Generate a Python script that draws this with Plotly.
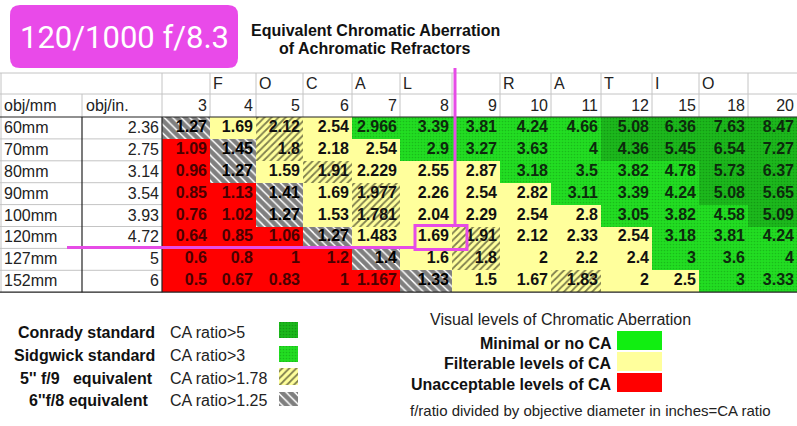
import plotly.graph_objects as go

# ---- data ----
obj_mm = ["60mm", "70mm", "80mm", "90mm", "100mm", "120mm", "127mm", "152mm"]
obj_in = ["2.36", "2.75", "3.14", "3.54", "3.93", "4.72", "5", "6"]
f_ratios = ["3", "4", "5", "6", "7", "8", "9", "10", "11", "12", "15", "18", "20"]
header_letters = ["", "F", "O", "C", "A", "L", "", "R", "A", "T", "I", "O", ""]

ca_ratio = [
    ["1.27", "1.69", "2.12", "2.54", "2.966", "3.39", "3.81", "4.24", "4.66", "5.08", "6.36", "7.63", "8.47"],
    ["1.09", "1.45", "1.8", "2.18", "2.54", "2.9", "3.27", "3.63", "4", "4.36", "5.45", "6.54", "7.27"],
    ["0.96", "1.27", "1.59", "1.91", "2.229", "2.55", "2.87", "3.18", "3.5", "3.82", "4.78", "5.73", "6.37"],
    ["0.85", "1.13", "1.41", "1.69", "1.977", "2.26", "2.54", "2.82", "3.11", "3.39", "4.24", "5.08", "5.65"],
    ["0.76", "1.02", "1.27", "1.53", "1.781", "2.04", "2.29", "2.54", "2.8", "3.05", "3.82", "4.58", "5.09"],
    ["0.64", "0.85", "1.06", "1.27", "1.483", "1.69", "1.91", "2.12", "2.33", "2.54", "3.18", "3.81", "4.24"],
    ["0.6", "0.8", "1", "1.2", "1.4", "1.6", "1.8", "2", "2.2", "2.4", "3", "3.6", "4"],
    ["0.5", "0.67", "0.83", "1", "1.167", "1.33", "1.5", "1.67", "1.83", "2", "2.5", "3", "3.33"],
]

# R red, H 6"f/8 hatch, S 5" f/9 hatch, Y yellow, G Sidgwick green, D Conrady green
levels = [
    "HYSYGGGGGDDDD",
    "RHSYYGGGGDDDD",
    "RHYSYYYGGGGDD",
    "RRHYSYYYGGGDD",
    "RRHYSYYYYGGGD",
    "RRRHYYSYYYGGG",
    "RRRRHYSYYYGGG",
    "RRRRRHYYSYYGG",
]

# ---- layout constants ----
W, H = 797, 426
col_edges = [0, 82, 162, 210, 256, 303, 352, 400, 452, 500, 551, 601, 652, 699, 748, 797]
hdr_top, hdr_mid, data_top = 73, 94, 117
row_h = 21.9
FONT = "Arial, Liberation Sans, sans-serif"
MAGENTA = "#e64ce6"

styles = {
    "R": dict(color="#ff0000"),
    "Y": dict(color="#ffff9c"),
    "H": dict(color="#ffffff", pattern=dict(shape="\\", fgcolor="#000000", bgcolor="#ffffff", size=6, solidity=0.75)),
    "S": dict(color="#ffff9c", pattern=dict(shape="/", fgcolor="#000000", bgcolor="#ffff9c", size=5, solidity=0.35)),
    "G": dict(color="#22dd22", pattern=dict(shape=".", fgcolor="#119911", bgcolor="#22dd22", size=3, solidity=0.25)),
    "D": dict(color="#1cb81c", pattern=dict(shape=".", fgcolor="#0b7a0b", bgcolor="#1cb81c", size=3, solidity=0.25)),
}
text_colors = {"R": "#4a0000", "Y": "#111111", "H": "#000000", "S": "#111111", "G": "#0d2a0d", "D": "#0d2a0d"}

fig = go.Figure()

# cells as bars on a pixel-scaled axis
for code, st in styles.items():
    xs, ws, bases, hs = [], [], [], []
    for r, row in enumerate(levels):
        for c, lv in enumerate(row):
            if lv != code:
                continue
            x0, x1 = col_edges[c + 2], col_edges[c + 3]
            xs.append((x0 + x1) / 2)
            ws.append(x1 - x0)
            bases.append(data_top + r * row_h)
            hs.append(row_h)
    fig.add_trace(go.Bar(x=xs, y=hs, base=bases, width=ws, marker=dict(line_width=0, **st),
                         hoverinfo="skip", showlegend=False))

# cell numbers
for code in styles:
    tx, ty, tt = [], [], []
    for r, row in enumerate(ca_ratio):
        for c, val in enumerate(row):
            if levels[r][c] != code:
                continue
            tx.append(col_edges[c + 3] - 3)
            ty.append(data_top + (r + 0.5) * row_h)
            tt.append("<b>" + val + "</b>")
    fig.add_trace(go.Scatter(x=tx, y=ty, text=tt, mode="text", textposition="middle left",
                             textfont=dict(family=FONT, size=16, color=text_colors[code]),
                             hoverinfo="skip", showlegend=False))

# header & label text
lab_font = dict(family=FONT, size=16, color="#222222")
fig.add_trace(go.Scatter(
    x=[col_edges[c + 2] + 3 for c in range(len(f_ratios))], y=[(hdr_top + hdr_mid) / 2 + 1] * len(f_ratios),
    text=header_letters, mode="text", textposition="middle right", textfont=lab_font, hoverinfo="skip", showlegend=False))
fig.add_trace(go.Scatter(
    x=[col_edges[c + 3] - 3 for c in range(len(f_ratios))], y=[(hdr_mid + data_top) / 2 + 1] * len(f_ratios),
    text=f_ratios, mode="text", textposition="middle left", textfont=lab_font, hoverinfo="skip", showlegend=False))
fig.add_trace(go.Scatter(
    x=[4, col_edges[1] + 4], y=[(hdr_mid + data_top) / 2 + 1] * 2, text=["obj/mm", "obj/in."],
    mode="text", textposition="middle right", textfont=lab_font, hoverinfo="skip", showlegend=False))
fig.add_trace(go.Scatter(
    x=[4] * len(obj_mm), y=[data_top + (r + 0.5) * row_h + 1 for r in range(len(obj_mm))], text=obj_mm,
    mode="text", textposition="middle right", textfont=lab_font, hoverinfo="skip", showlegend=False))
fig.add_trace(go.Scatter(
    x=[col_edges[2] - 3] * len(obj_in), y=[data_top + (r + 0.5) * row_h + 1 for r in range(len(obj_in))], text=obj_in,
    mode="text", textposition="middle left", textfont=lab_font, hoverinfo="skip", showlegend=False))

# grid lines
data_bot = data_top + len(obj_mm) * row_h
grey = dict(color="#c4c4c4", width=1)
dark = dict(color="#222222", width=1.2)
shapes = []
shapes.append(dict(type="line", x0=0, x1=W, y0=hdr_top, y1=hdr_top, line=grey))
shapes.append(dict(type="line", x0=0, x1=W, y0=hdr_mid, y1=hdr_mid, line=grey))
for e in col_edges[2:-1]:
    shapes.append(dict(type="line", x0=e, x1=e, y0=hdr_top, y1=data_top, line=grey))
shapes.append(dict(type="line", x0=1, x1=1, y0=hdr_top, y1=data_bot, line=grey))
for r in range(1, len(obj_mm)):
    y = data_top + r * row_h
    shapes.append(dict(type="line", x0=0, x1=col_edges[2], y0=y, y1=y, line=grey))
shapes.append(dict(type="line", x0=col_edges[1], x1=col_edges[1], y0=hdr_mid, y1=data_top, line=grey))
shapes.append(dict(type="line", x0=col_edges[1], x1=col_edges[1], y0=data_top, y1=data_bot, line=dark))
shapes.append(dict(type="line", x0=col_edges[2], x1=col_edges[2], y0=data_top, y1=data_bot, line=dark))
shapes.append(dict(type="line", x0=0, x1=W, y0=data_top, y1=data_top, line=dark))
shapes.append(dict(type="line", x0=0, x1=W, y0=data_bot, y1=data_bot, line=dark))

# magenta markup around the 120mm f/8.3 position
bx0, bx1 = 415, 467
by0, by1 = data_top + 5 * row_h - 1, data_top + 6 * row_h + 1
mag = dict(color=MAGENTA, width=3)
shapes.append(dict(type="line", x0=67, x1=bx0, y0=by1 - 2, y1=by1 - 2, line=mag))
shapes.append(dict(type="line", x0=455, x1=455, y0=68, y1=by0, line=mag))
shapes.append(dict(type="rect", x0=bx0, x1=bx1, y0=by0, y1=by1, line=mag))

# rounded title badge
x0, x1, y0, y1, rr = 10, 238, 5, 68, 10
path = (f"M{x0 + rr},{y0} L{x1 - rr},{y0} Q{x1},{y0} {x1},{y0 + rr} L{x1},{y1 - rr} Q{x1},{y1} {x1 - rr},{y1} "
        f"L{x0 + rr},{y1} Q{x0},{y1} {x0},{y1 - rr} L{x0},{y0 + rr} Q{x0},{y0} {x0 + rr},{y0} Z")
shapes.append(dict(type="path", path=path, fillcolor="#e94ae9", line_width=0, layer="below"))
fig.update_layout(shapes=shapes)

# legend swatches (bars so they can carry the same patterns)
left_sw = [("D", 322, 338), ("G", 346, 362), ("S", 368, 385), ("H", 392, 406)]
for code, t, b in left_sw:
    fig.add_trace(go.Bar(x=[288.5], y=[b - t], base=[t], width=[19], marker=dict(line_width=0, **styles[code]),
                         hoverinfo="skip", showlegend=False))
right_sw = [("#11ee11", 331, 350), ("#ffff9c", 352, 371), ("#ff0000", 373, 392)]
for colr, t, b in right_sw:
    fig.add_trace(go.Bar(x=[639.5], y=[b - t], base=[t], width=[45], marker=dict(color=colr, line_width=0),
                         hoverinfo="skip", showlegend=False))

ann = []
def note(x, y, text, size=16, anchor="left", color="#111111", family=FONT):
    ann.append(dict(x=x, y=y, xref="x", yref="y", text=text, showarrow=False, xanchor=anchor, yanchor="middle",
                    font=dict(family=family, size=size, color=color)))

note(124, 37, "120/1000 f/8.3", size=31, anchor="center", color="#ffffff", family="Roboto, Arial, sans-serif")
note(375, 30, "<b>Equivalent Chromatic Aberration</b>", size=16, anchor="center")
note(375, 48, "<b>of Achromatic Refractors</b>", size=16, anchor="center")

for txt, sub, y, xr in [("Conrady standard", "CA ratio>5", 332, 157), ("Sidgwick standard", "CA ratio>3", 355, 157),
                        ("5'' f/9   equivalent", "CA ratio>1.78", 378, 155), ("6''f/8 equivalent", "CA ratio>1.25", 400, 150)]:
    note(xr, y, "<b>" + txt.replace("   ", "&nbsp;&nbsp;&nbsp;") + "</b>", anchor="right")
    note(168, y, sub, color="#222222")

note(560, 319, "Visual levels of Chromatic Aberration", size=16, anchor="center", color="#222222")
note(614, 343, "<b>Minimal or no CA</b>", anchor="right")
note(614, 363, "<b>Filterable levels of CA</b>", anchor="right")
note(614, 384, "<b>Unacceptable levels of CA</b>", anchor="right")
note(590, 410, "f/ratio divided by objective diameter in inches=CA ratio", size=15, anchor="center", color="#222222")

fig.update_layout(
    annotations=ann,
    width=W, height=H,
    margin=dict(l=0, r=0, t=0, b=0),
    paper_bgcolor="white", plot_bgcolor="white",
    barmode="overlay", bargap=0,
    xaxis=dict(range=[0, W], visible=False, fixedrange=True),
    yaxis=dict(range=[H, 0], visible=False, fixedrange=True),
)

# the page body has a default 8px margin; drop it so the figure fills the window
fig.write_html("out.html", config={"displayModeBar": False},
               post_script="document.body.style.margin='0';document.body.style.overflow='hidden';")
